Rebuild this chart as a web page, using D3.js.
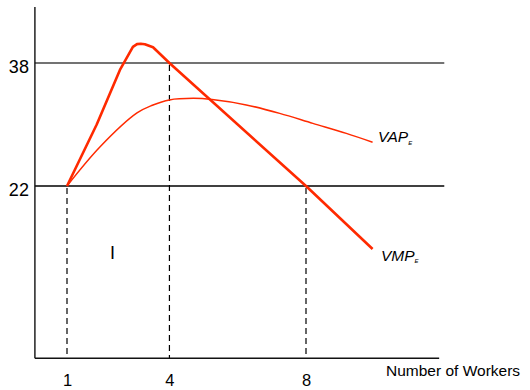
<!DOCTYPE html>
<html>
<head>
<meta charset="utf-8">
<script src="https://cdn.jsdelivr.net/npm/d3@7"></script>
<style>
  html, body { margin: 0; padding: 0; background: #fff; }
  svg { display: block; font-family: Arial, "Liberation Sans", sans-serif; }
</style>
</head>
<body>
<svg id="chart" width="530" height="390"></svg>
<script>
// Value of the marginal product (VMP) and average product (VAP) of labour
const vmpWorkers = [1, 1.87, 2.55, 2.79, 2.93, 3.05, 3.16, 3.28, 3.52, 4, 8, 9.95];
const vmpValues  = [22, 30.0, 37.1, 39.0, 40.1, 40.45, 40.5, 40.44, 40.05, 38, 22, 13.8];

const vapWorkers = [1, 1.97, 3.05, 3.5, 4, 4.7, 5.25, 6.25, 7.23, 8.2, 9.18, 9.95];
const vapValues  = [22, 27.1, 31.5, 32.5, 33.2, 33.4, 33.25, 32.55, 31.45, 30.15, 28.85, 27.7];

// Wage levels and the worker counts marked on the axis
const wageLevels = [22, 38];
const workerTicks = [1, 4, 8];
const droplines = [ {w: 1, v: 22}, {w: 4, v: 38}, {w: 8, v: 22} ];

const svg = d3.select("#chart");

const x = d3.scaleLinear().domain([1, 8]).range([67, 306]);
const y = d3.scaleLinear().domain([22, 38]).range([186, 63]);

const x0 = x(0.06), xEnd = x(11.9), xLineEnd = x(12.05);
const yBase = y(-0.4), yTop = y(45.3);

// Horizontal wage lines
svg.selectAll("line.wage").data(wageLevels).join("line")
  .attr("class", "wage")
  .attr("x1", x0).attr("x2", xLineEnd)
  .attr("y1", d => y(d)).attr("y2", d => y(d))
  .attr("stroke", d => d === 38 ? "#444" : "#000")
  .attr("stroke-width", 1.4);

// Dashed drop lines to the horizontal axis
svg.selectAll("line.drop").data(droplines).join("line")
  .attr("class", "drop")
  .attr("x1", d => x(d.w)).attr("x2", d => x(d.w))
  .attr("y1", d => y(d.v) + 2).attr("y2", yBase)
  .attr("stroke", "#000").attr("stroke-width", 1.2)
  .attr("stroke-dasharray", "6,4");

// Axis lines
svg.append("line").attr("x1", x0).attr("x2", x0).attr("y1", yTop).attr("y2", yBase)
  .attr("stroke", "#111").attr("stroke-width", 1.4);
svg.append("line").attr("x1", x0).attr("x2", xEnd).attr("y1", yBase).attr("y2", yBase)
  .attr("stroke", "#111").attr("stroke-width", 1.4);

// Tick labels via d3 axes
const yAxis = svg.append("g").attr("transform", `translate(${x0},0)`)
  .call(d3.axisLeft(y).tickValues(wageLevels).tickFormat(d3.format("d")).tickSize(0).tickPadding(6));
yAxis.select(".domain").remove();
yAxis.selectAll("text").attr("font-size", 18).attr("font-family", "Arial, 'Liberation Sans', sans-serif")
  .attr("fill", "#000").attr("dy", "0.5em");

const xAxis = svg.append("g").attr("transform", `translate(0,${yBase})`)
  .call(d3.axisBottom(x).tickValues(workerTicks).tickFormat(d3.format("d")).tickSize(0).tickPadding(16));
xAxis.select(".domain").remove();
xAxis.selectAll("text").attr("font-size", 16.5).attr("font-family", "Arial, 'Liberation Sans', sans-serif")
  .attr("fill", "#000");

// Curves
const vapLine = d3.line().curve(d3.curveCatmullRom.alpha(0.5));
const vmpLine = d3.line().curve(d3.curveLinear);
svg.append("path")
  .attr("d", vapLine(vapWorkers.map((w, i) => [x(w), y(vapValues[i])])))
  .attr("fill", "none").attr("stroke", "#ff2a00").attr("stroke-width", 1.5);
svg.append("path")
  .attr("d", vmpLine(vmpWorkers.map((w, i) => [x(w), y(vmpValues[i])])))
  .attr("fill", "none").attr("stroke", "#ff2a00").attr("stroke-width", 2.6)
  .attr("stroke-linejoin", "round");

// Curve labels
function curveLabel(name, px, py) {
  const t = svg.append("text").attr("x", px).attr("y", py)
    .attr("font-size", 15.5).attr("font-style", "italic").attr("fill", "#000");
  t.append("tspan").text(name);
  t.append("tspan").attr("font-size", 6).attr("dy", 2.2).text("E");
}
curveLabel("VAP", 378, 142.3);
curveLabel("VMP", 381, 261);

// Region marker
svg.append("text").attr("x", 112.5).attr("y", 259.3).attr("text-anchor", "middle")
  .attr("font-size", 18).attr("fill", "#000").text("I");

// Axis title
svg.append("text").attr("x", 386).attr("y", 376)
  .attr("font-size", 15.5).attr("fill", "#000").text("Number of Workers");
</script>
</body>
</html>
